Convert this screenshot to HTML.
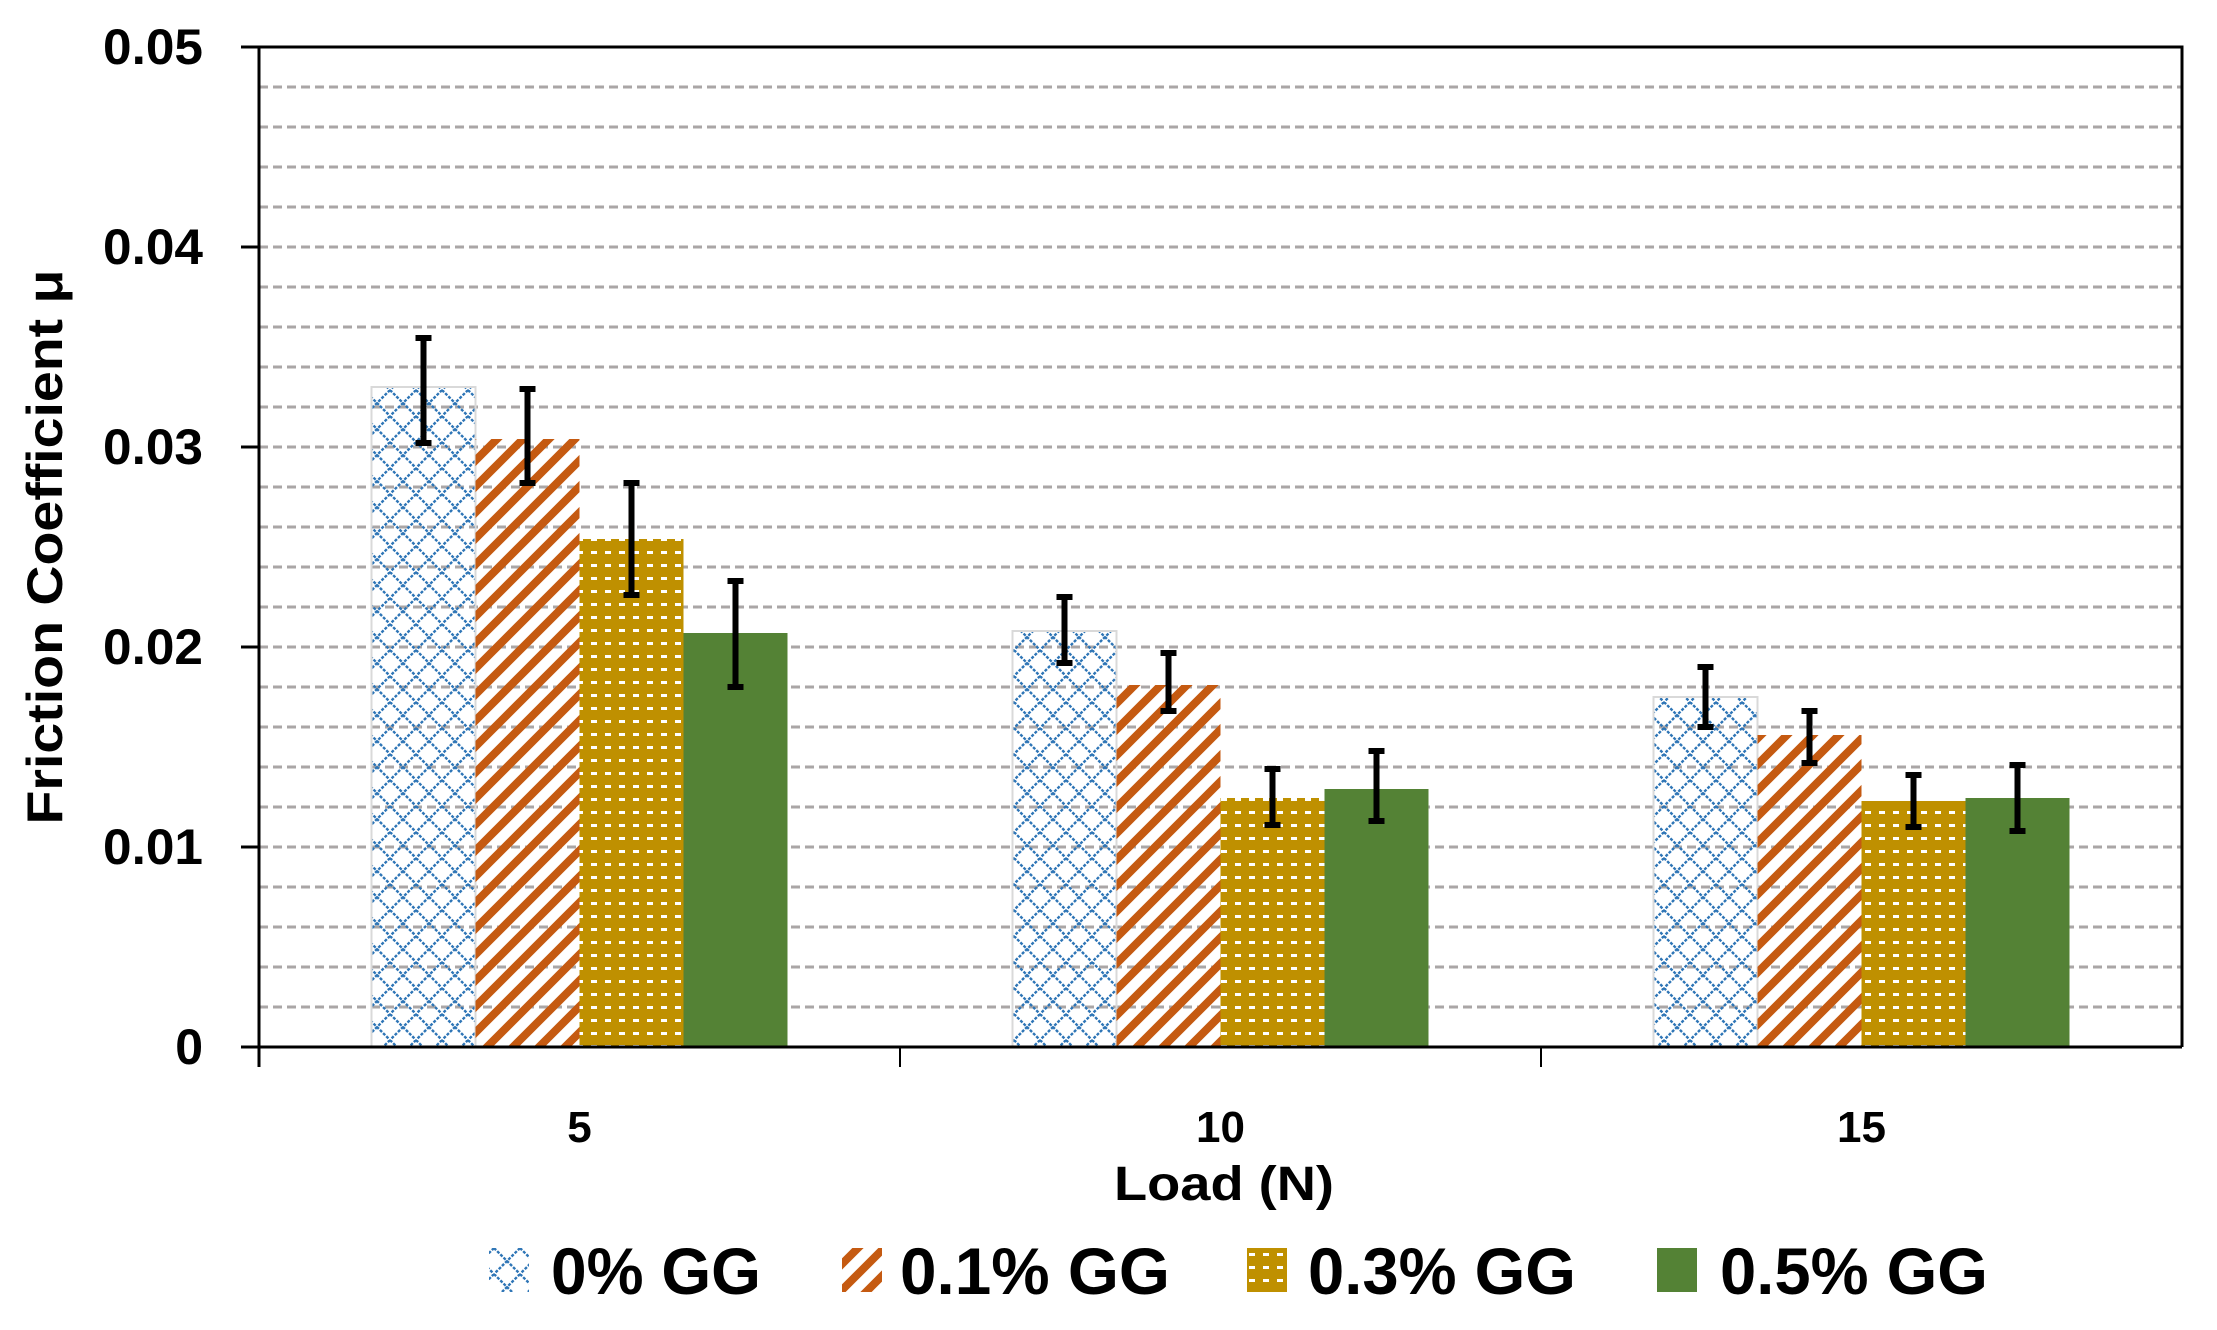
<!DOCTYPE html>
<html><head><meta charset="utf-8"><style>
html,body{margin:0;padding:0;background:#fff;}
svg text{font-family:"Liberation Sans",sans-serif;font-weight:bold;fill:#000;}
</style></head><body>
<svg id="chart" width="2217" height="1325" xmlns="http://www.w3.org/2000/svg">
<defs>
<pattern id="pBlue" patternUnits="userSpaceOnUse" width="26" height="26">
<path d="M0,0 L26,26 M26,0 L0,26" stroke="#2E75B6" stroke-width="2.4" stroke-dasharray="3,1.5" fill="none"/>
</pattern>
<pattern id="pOrange" patternUnits="userSpaceOnUse" width="26" height="26">
<path d="M-13,13 L13,-13 M-13,39 L39,-13 M13,39 L39,13" stroke="#C55A11" stroke-width="8" fill="none"/>
</pattern>
<pattern id="pGold" patternUnits="userSpaceOnUse" width="14" height="13">
<rect width="14" height="13" fill="#BF9000"/>
<rect x="3" y="5" width="6" height="3" fill="#fff"/>
</pattern>
</defs>
<g id="grid"></g>
<g id="bars"></g>
<g id="axes"></g>
<g id="legend"></g>
</svg>
<script>
const categories = ["5","10","15"];
const series = ["0% GG","0.1% GG","0.3% GG","0.5% GG"];
const s0 = [0.0330,0.0208,0.0175];
const s1 = [0.0304,0.0181,0.0156];
const s2 = [0.0254,0.01245,0.0123];
const s3 = [0.0207,0.0129,0.01245];
const errLo0 = [0.0302,0.0192,0.0160];
const errHi0 = [0.03545,0.0225,0.0190];
const errLo1 = [0.0282,0.0168,0.0142];
const errHi1 = [0.0329,0.0197,0.0168];
const errLo2 = [0.0226,0.0111,0.0110];
const errHi2 = [0.0282,0.0139,0.0136];
const errLo3 = [0.0180,0.0113,0.0108];
const errHi3 = [0.0233,0.0148,0.0141];
const yTicks = ["0","0.01","0.02","0.03","0.04","0.05"];
const yTickVals = [0,0.01,0.02,0.03,0.04,0.05];

const NS="http://www.w3.org/2000/svg";
const X0=259,X1=2182,Y0=1047,YT=47,YMAX=0.05;
const catW=(X1-X0)/categories.length, barW=104;
function y(v){return Y0-(v/YMAX)*(Y0-YT);}
function cx(i){return X0+catW*(i+0.5);}
function mk(parent,tag,attrs){const e=document.createElementNS(NS,tag);for(const k in attrs)e.setAttribute(k,attrs[k]);document.getElementById(parent).appendChild(e);return e;}
const fills=["url(#pBlue)","url(#pOrange)","url(#pGold)","#548235"];
const vals=[s0,s1,s2,s3], los=[errLo0,errLo1,errLo2,errLo3], his=[errHi0,errHi1,errHi2,errHi3];

for(let k=1;k<25;k++){
  const v=k*0.002;
  const l=mk("grid","line",{x1:X0,x2:X1,y1:y(v),y2:y(v),stroke:"#aaa6a6","stroke-width":3,"stroke-dasharray":"9,5"});
  
  
}
for(let i=0;i<categories.length;i++){
  for(let s=0;s<4;s++){
    const bx=cx(i)-2*barW+s*barW;
    const r=mk("bars","rect",{x:bx,y:y(vals[s][i]),width:barW,height:Y0-y(vals[s][i]),fill:fills[s]});
    if(s===0){r.setAttribute('stroke','#d9d9d9');r.setAttribute('stroke-width','2');}
    
    
  }
}
for(let i=0;i<categories.length;i++){
  for(let s=0;s<4;s++){
    const ex=cx(i)-2*barW+s*barW+barW/2;
    const g=mk("bars","g",{});
    
    
    const ya=y(his[s][i]), yb=y(los[s][i]);
    const a=document.createElementNS(NS,"path");
    a.setAttribute("d",`M${ex},${ya} L${ex},${yb} M${ex-8},${ya} L${ex+8},${ya} M${ex-8},${yb} L${ex+8},${yb}`);
    a.setAttribute("stroke","#000");a.setAttribute("stroke-width","6");a.setAttribute("fill","none");
    g.appendChild(a);
  }
}
const ax=mk("axes","path",{d:`M${X0},${YT} L${X1},${YT} L${X1},${Y0} M${X0},${YT} L${X0},${Y0+20} M${X0-18},${Y0} L${X1},${Y0}`,stroke:"#000","stroke-width":3,fill:"none"});


for(let i=0;i<yTickVals.length;i++){
  const t=mk("axes","line",{x1:X0-18,x2:X0,y1:y(yTickVals[i]),y2:y(yTickVals[i]),stroke:"#000","stroke-width":3});
  
  
  const attrs={x:203,y:y(yTickVals[i])+17,"text-anchor":"end","font-size":50};
  if(yTicks[i].length>1){attrs.textLength=100;attrs.lengthAdjust="spacingAndGlyphs";}
  const tx=mk("axes","text",attrs);
  tx.textContent=yTicks[i];
  
  
}
for(let i=1;i<categories.length;i++){
  const xx=X0+catW*i;
  const t=mk("axes","line",{x1:xx,x2:xx,y1:Y0,y2:Y0+20,stroke:"#000","stroke-width":2});
  
  
}
for(let i=0;i<categories.length;i++){
  const tx=mk("axes","text",{x:cx(i),y:1142,"text-anchor":"middle","font-size":44});
  tx.textContent=categories[i];
  
  
}
const xt=mk("axes","text",{x:1224,y:1200,"text-anchor":"middle","font-size":48,textLength:220,lengthAdjust:"spacingAndGlyphs"});
xt.textContent="Load (N)";


const yt=mk("axes","text",{x:0,y:0,"text-anchor":"middle","font-size":50,textLength:555,lengthAdjust:"spacingAndGlyphs",transform:"translate(62,547) rotate(-90)"});
yt.textContent="Friction Coefficient μ";


const legIcon=[489,842,1247,1657], legText=[551,900,1308,1720], legLen=[210,270,268,268];
for(let s=0;s<4;s++){
  const g=mk("legend","g",{});
  
  
  const r=document.createElementNS(NS,"rect");
  r.setAttribute("x",legIcon[s]);r.setAttribute("y",1248);r.setAttribute("width",40);r.setAttribute("height",44);r.setAttribute("fill",fills[s]);
  g.appendChild(r);
  const t=document.createElementNS(NS,"text");
  t.setAttribute("x",legText[s]);t.setAttribute("y",1294);t.setAttribute("font-size",66);
  t.setAttribute("textLength",legLen[s]);t.setAttribute("lengthAdjust","spacingAndGlyphs");
  t.textContent=series[s];
  g.appendChild(t);
}
</script>
</body></html>
